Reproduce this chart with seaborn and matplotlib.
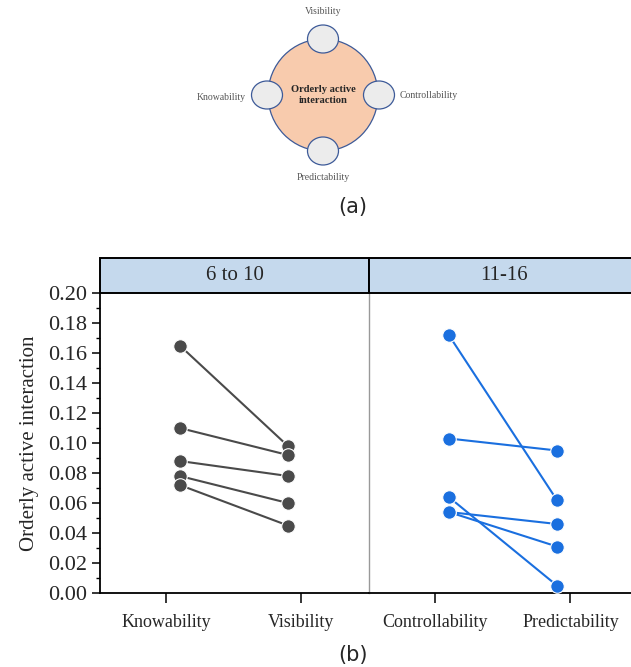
import numpy as np
import pandas as pd
import matplotlib
matplotlib.use("Agg")
import matplotlib.pyplot as plt
import seaborn as sns
from matplotlib.patches import Ellipse, Rectangle
from matplotlib.ticker import MultipleLocator

# values
groups = ["6 to 10", "11-16"]
dims_left = ["Knowability", "Visibility"]
dims_right = ["Controllability", "Predictability"]
know = [0.165, 0.110, 0.088, 0.078, 0.072]
visi = [0.098, 0.092, 0.078, 0.060, 0.045]
ctrl = [0.172, 0.103, 0.064, 0.054, 0.054]
pred = [0.062, 0.095, 0.005, 0.046, 0.031]
colors = ["#4a4a4a", "#1a6fdf"]

# diagram (a)
hub_text = "Orderly active\ninteraction"
spokes = ["Visibility", "Controllability", "Predictability", "Knowability"]


def make_df():
    rows = []
    for g, dims, a, b in [(groups[0], dims_left, know, visi), (groups[1], dims_right, ctrl, pred)]:
        for i in range(len(a)):
            rows.append((g, i, dims[0], 0, a[i]))
            rows.append((g, i, dims[1], 1, b[i]))
    return pd.DataFrame(rows, columns=["group", "pair", "dim", "idx", "value"])


def draw_diagram(fig):
    ax = fig.add_axes([0, 1 - 230 / 667, 1, 230 / 667])
    ax.set_xlim(0, 631)
    ax.set_ylim(230, 0)
    ax.axis("off")
    cx, cy, r = 323, 95, 56
    ax.add_patch(Ellipse((cx, cy), 2 * r - 2, 2 * r, facecolor="#f8cbad", edgecolor="#3d5a98", lw=0.9))
    ang = [90, 0, -90, 180]
    for name, a in zip(spokes, ang):
        x = cx + r * np.cos(np.radians(a))
        y = cy - r * np.sin(np.radians(a))
        ax.add_patch(Ellipse((x, y), 31, 28, facecolor="#ececec", edgecolor="#3d5a98", lw=0.9))
        if a == 90:
            ax.text(x, y - 28, name, ha="center", va="center", fontsize=7, color="#555555", family="Liberation Serif")
        elif a == -90:
            ax.text(x, y + 27, name, ha="center", va="center", fontsize=7, color="#555555", family="Liberation Serif")
        elif a == 0:
            ax.text(x + 21, y, name, ha="left", va="center", fontsize=7, color="#555555", family="Liberation Serif")
        else:
            ax.text(x - 21, y + 2, name, ha="right", va="center", fontsize=7, color="#555555", family="Liberation Serif")
    ax.text(cx, cy, hub_text, ha="center", va="center", fontsize=7.6, fontweight="bold",
            family="Liberation Serif", linespacing=1.3)
    ax.text(353, 207, "(a)", ha="center", va="center", fontsize=15, family="DejaVu Sans")


def main():
    sns.set_theme(style="ticks")
    plt.rcParams["font.family"] = ["Liberation Serif", "DejaVu Serif"]
    df = make_df()
    fig = plt.figure(figsize=(6.31, 6.67), dpi=100)
    draw_diagram(fig)

    bottom = (667 - 593) / 667
    height = 300 / 667
    width = 269 / 631
    axes = [fig.add_axes([100 / 631, bottom, width, height]),
            fig.add_axes([369 / 631, bottom, width, height])]
    dodge = 0.1
    for k, ax in enumerate(axes):
        sub = df[df.group == groups[k]].copy()
        sub["x"] = sub["idx"] + np.where(sub["idx"] == 0, dodge, -dodge)
        sns.lineplot(data=sub, x="x", y="value", units="pair", estimator=None,
                     color=colors[k], lw=1.5, ax=ax, legend=False)
        sns.scatterplot(data=sub, x="x", y="value", color=colors[k], s=95,
                        edgecolor="white", linewidth=0.8, ax=ax, legend=False, zorder=3, clip_on=False)
        ax.set_xlim(-0.49, 1.5)
        ax.set_ylim(0, 0.2)
        ax.set_xticks([0, 1])
        ax.set_xticklabels(dims_left if k == 0 else dims_right, fontsize=13)
        ax.set_xlabel("")
        ax.tick_params(axis="x", direction="out", length=7, width=1.1, pad=8, color="black")
        ax.spines["top"].set_visible(False)
        ax.spines["right"].set_visible(False)
        ax.spines["bottom"].set_linewidth(1.3)
        ax.spines["bottom"].set_color("black")
        # strip header
        ax.add_patch(Rectangle((0, 1), 1, 35 / 300, transform=ax.transAxes, facecolor="#c5d9ed",
                               edgecolor="black", lw=1.4, clip_on=False, zorder=4))
        ax.text(0.5, 1 + 17.5 / 300, groups[k], transform=ax.transAxes, ha="center", va="center",
                fontsize=15, zorder=5)
        if k == 0:
            ax.yaxis.set_major_locator(MultipleLocator(0.02))
            ax.yaxis.set_minor_locator(MultipleLocator(0.01))
            ax.set_yticklabels(["%.2f" % v for v in ax.get_yticks()], fontsize=16)
            ax.tick_params(axis="y", which="major", direction="out", length=6, width=1.1, pad=3, color="black")
            ax.tick_params(axis="y", which="minor", direction="out", length=3, width=1.0, color="black")
            ax.set_ylabel("Orderly active interaction", fontsize=15, labelpad=7)
            ax.spines["left"].set_linewidth(1.3)
            ax.spines["left"].set_color("black")
        else:
            ax.set_yticks([])
            ax.set_ylabel("")
            ax.spines["left"].set_color("#999999")
            ax.spines["left"].set_linewidth(1.0)
    fig.text(353 / 631, 1 - 655 / 667, "(b)", ha="center", va="center", fontsize=15, family="DejaVu Sans")
    fig.savefig("out.png", dpi=100)


if __name__ == "__main__":
    main()
